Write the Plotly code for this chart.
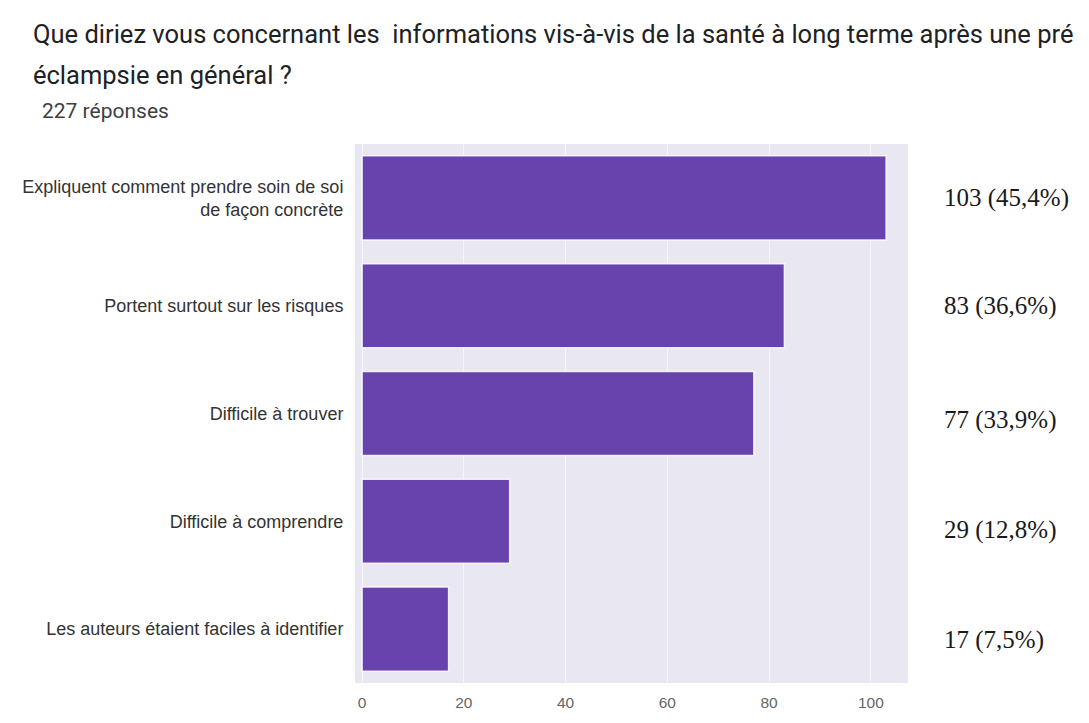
import plotly.graph_objects as go

# Survey answers, top to bottom
categories = [
    "Expliquent comment prendre soin de soi<br>de façon concrète",
    "Portent surtout sur les risques",
    "Difficile à trouver",
    "Difficile à comprendre",
    "Les auteurs étaient faciles à identifier",
]
counts = [103, 83, 77, 29, 17]
percents = ["45,4", "36,6", "33,9", "12,8", "7,5"]
tick_values = [0, 20, 40, 60, 80, 100]

title_line1 = "Que diriez vous concernant les\u00a0 informations vis-à-vis de la santé à long terme après une pré"
title_line2 = "éclampsie en général ?"
subtitle = "227 réponses"

# plot area in pixels (for placing free text relative to it)
W, H = 1089, 723
L, R, T, B = 355, 181, 144, 36
pw, ph = W - L - R, H - T - B


def px_x(x):
    return (x - L) / pw


def px_y(y):
    return (H - B - y) / ph


BAR = "#6843ad"

fig = go.Figure(
    go.Bar(
        x=counts,
        y=categories,
        orientation="h",
        marker=dict(color=BAR, line=dict(color="rgba(255,255,255,0.85)", width=1.5)),
        hoverinfo="x+y",
    )
)

annotations = []
# value labels to the right of the plot
label_shift = [0, 0, -6, -9, -11]
for cat, n, p, s in zip(categories, counts, percents, label_shift):
    annotations.append(
        dict(
            x=px_x(942), xref="paper", y=cat, yref="y",
            text=f"{n} ({p}%)", showarrow=False, xanchor="left", yanchor="middle",
            yshift=s,
            font=dict(family="Liberation Serif, Times New Roman, serif", size=25, color="#1a1a1a"),
        )
    )

annotations += [
    dict(x=px_x(31), y=px_y(33), xref="paper", yref="paper", text=title_line1,
         showarrow=False, xanchor="left", yanchor="middle",
         font=dict(family="Roboto, sans-serif", size=25.5, color="#202124")),
    dict(x=px_x(31), y=px_y(74), xref="paper", yref="paper", text=title_line2,
         showarrow=False, xanchor="left", yanchor="middle",
         font=dict(family="Roboto, sans-serif", size=25.5, color="#202124")),
    dict(x=px_x(40), y=px_y(111), xref="paper", yref="paper", text=subtitle,
         showarrow=False, xanchor="left", yanchor="middle",
         font=dict(family="Roboto, sans-serif", size=21, color="#3c4043")),
]

fig.update_layout(
    width=W, height=H,
    margin=dict(l=L, r=R, t=T, b=B, pad=0),
    paper_bgcolor="white",
    plot_bgcolor="#e9e7f2",
    bargap=0.22,
    showlegend=False,
    annotations=annotations,
    xaxis=dict(
        range=[-1.4, 107.3],
        tickvals=tick_values,
        showgrid=True, gridcolor="#f6f5fb", gridwidth=1,
        zeroline=False, showline=False,
        ticks="outside", ticklen=5, tickcolor="rgba(0,0,0,0)",
        tickfont=dict(family="Liberation Sans, Arial, sans-serif", size=15.5, color="#666666"),
    ),
    yaxis=dict(
        autorange="reversed",
        showgrid=False, zeroline=False, showline=False,
        ticks="outside", ticklen=7, tickcolor="rgba(0,0,0,0)",
        tickfont=dict(family="Liberation Sans, Arial, sans-serif", size=18, color="#333333"),
    ),
)

fig.write_html("out.html")
